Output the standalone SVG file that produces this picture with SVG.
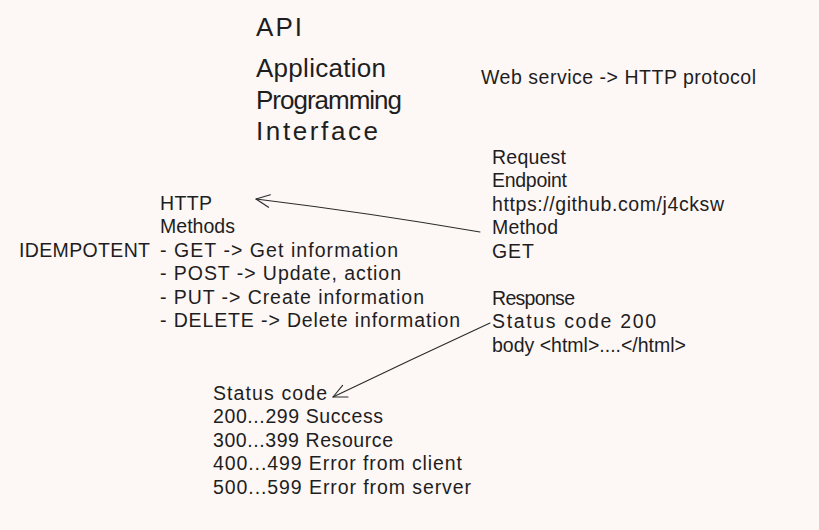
<svg xmlns="http://www.w3.org/2000/svg" width="819" height="530" viewBox="0 0 819 530">
<style>
text{font-family:"Liberation Sans","DejaVu Sans",sans-serif;fill:#1e1e1e;font-size:19.5px}
.t{font-size:26px}
.c{fill:none;stroke:#2a2a2a;stroke-width:1.1;stroke-linecap:round;stroke-linejoin:round}
</style>
<rect width="819" height="530" fill="#fdf7f6"/>
<g id="title">
<text class="t" x="256" y="36" textLength="46" lengthAdjust="spacing">API</text>
<text class="t" x="256" y="77" textLength="130" lengthAdjust="spacing">Application</text>
<text class="t" x="256" y="109" textLength="146" lengthAdjust="spacing">Programming</text>
<text class="t" x="256" y="140" textLength="122" lengthAdjust="spacing">Interface</text>
</g>
<g id="web-service">
<text x="481" y="84" textLength="275" lengthAdjust="spacing">Web service -&gt; HTTP protocol</text>
</g>
<g id="request">
<text x="492" y="164" textLength="74" lengthAdjust="spacing">Request</text>
<text x="492" y="187" textLength="75" lengthAdjust="spacing">Endpoint</text>
<text x="492" y="211" textLength="232" lengthAdjust="spacing">https://github.com/j4cksw</text>
<text x="492" y="234" textLength="66" lengthAdjust="spacing">Method</text>
<text x="492" y="258" textLength="42" lengthAdjust="spacing">GET</text>
</g>
<g id="http-methods">
<text x="160" y="210" textLength="52" lengthAdjust="spacing">HTTP</text>
<text x="160" y="233" textLength="75" lengthAdjust="spacing">Methods</text>
<text x="160" y="257" textLength="238" lengthAdjust="spacing">- GET -&gt; Get information</text>
<text x="160" y="280" textLength="241" lengthAdjust="spacing">- POST -&gt; Update, action</text>
<text x="160" y="304" textLength="264" lengthAdjust="spacing">- PUT -&gt; Create information</text>
<text x="160" y="327" textLength="300" lengthAdjust="spacing">- DELETE -&gt; Delete information</text>
</g>
<g id="idempotent">
<text x="19" y="257" textLength="131" lengthAdjust="spacing">IDEMPOTENT</text>
</g>
<g id="response">
<text x="492" y="305" textLength="83" lengthAdjust="spacing">Response</text>
<text x="492" y="328" textLength="164" lengthAdjust="spacing">Status code 200</text>
<text x="492" y="352" textLength="194" lengthAdjust="spacing">body &lt;html&gt;....&lt;/html&gt;</text>
</g>
<g id="status-codes">
<text x="213" y="400" textLength="114" lengthAdjust="spacing">Status code</text>
<text x="213" y="423" textLength="170" lengthAdjust="spacing">200...299 Success</text>
<text x="213" y="447" textLength="180" lengthAdjust="spacing">300...399 Resource</text>
<text x="213" y="470" textLength="249" lengthAdjust="spacing">400...499 Error from client</text>
<text x="213" y="494" textLength="258" lengthAdjust="spacing">500...599 Error from server</text>
</g>
<g id="connectors">
<path class="c" d="M480 232 Q370 213 256 199"/>
<path class="c" d="M270.4 194.7 L256 199 L268.5 207.3"/>
<path class="c" d="M490 323 Q410 360 333 397"/>
<path class="c" d="M342.6 385.4 L333 397 L348 397"/>
</g>
</svg>
